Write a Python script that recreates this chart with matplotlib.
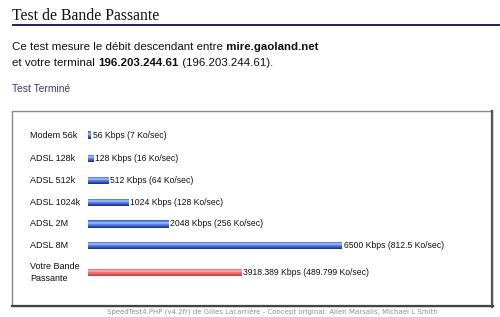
import numpy as np
import matplotlib
matplotlib.use("Agg")
import matplotlib.pyplot as plt
from matplotlib.colors import LinearSegmentedColormap
from matplotlib.patches import Rectangle

# ---------------- data ----------------
categories = ["Modem 56k", "ADSL 128k", "ADSL 512k", "ADSL 1024k",
              "ADSL 2M", "ADSL 8M", "Votre Bande\nPassante"]
kbps = [56, 128, 512, 1024, 2048, 6500, 3918.389]
is_user = [False, False, False, False, False, False, True]
server = "mire.gaoland.net"
client_ip = "196.203.244.61"

# ---------------- layout ----------------
W, H = 500, 317
DPI = 100
row_y = [135, 158.5, 180.5, 202.5, 224, 245.5, 272.5]   # pixel centres
bar_h = 8
bar_x0 = 88          # pixel where bars start
px_per_kbps = 254 / 6500.0

fig = plt.figure(figsize=(W / DPI, H / DPI), dpi=DPI)
page = fig.add_axes([0, 0, 1, 1])
page.set_xlim(0, W)
page.set_ylim(H, 0)
page.axis("off")

def fmt(v):
    s = "%.3f" % v
    return s.rstrip("0").rstrip(".")

# title + rule
page.text(12, 16, "Test de Bande Passante", family="Liberation Serif",
          fontsize=11.3, color="#111111", va="center", ha="left")
page.plot([12, 500], [24.5, 24.5], color="#22225e", lw=1.4,
          solid_capstyle="butt")

fig.canvas.draw()
renderer = fig.canvas.get_renderer()

def seq(x, y, pieces, size, color="#111111", family="Liberation Sans"):
    for txt, weight in pieces:
        t = page.text(x, y, txt, fontsize=size, fontweight=weight,
                      family=family, color=color, va="center", ha="left")
        bb = t.get_window_extent(renderer)
        x = x + bb.width * (W / fig.bbox.width)
    return x

seq(12, 47.5, [("Ce test mesure le débit descendant entre", "normal"),
               (" " + server, "bold")], 8.25)
seq(12, 63, [("et votre terminal ", "normal"), (client_ip, "bold"),
             (" (%s)." % client_ip, "normal")], 8.25)
page.text(12, 89.5, "Test Terminé", fontsize=7.4, family="Liberation Sans",
          color="#3b3b8c", va="center", ha="left")

# box
page.add_patch(Rectangle((12, 111), 480, 195, fill=False,
                         edgecolor="#8a8a8a", lw=1.0))
page.plot([492, 492], [111, 306.5], color="#555555", lw=1.6)
page.plot([12, 492.5], [306, 306], color="#444444", lw=1.6)

# footer
page.text(272, 311.5,
          "SpeedTest4.PHP (v4.2fr) de Gilles Lacarrière - Concept original: "
          "Allen Marsalis, Michael L Smith",
          fontsize=5.0, color="#939393", ha="center", va="center")

# ---------------- bar axes ----------------
ax_l = bar_x0 / W
ax_w = (492 - bar_x0) / W
ax = fig.add_axes([ax_l, 0, ax_w, 1])
ax.set_xlim(0, (492 - bar_x0) / px_per_kbps)
ax.set_ylim(H, 0)
ax.axis("off")
ax.patch.set_alpha(0)

blue = LinearSegmentedColormap.from_list("b", [
    (0.0, "#2f62d8"), (0.2, "#5b86e6"), (0.35, "#b3c7f2"),
    (0.55, "#5d86e2"), (0.8, "#2f52c0"), (1.0, "#162a86")])
red = LinearSegmentedColormap.from_list("r", [
    (0.0, "#de4a4a"), (0.2, "#ea7a7a"), (0.35, "#f6c0c0"),
    (0.55, "#ec7676"), (0.8, "#e05656"), (1.0, "#c83a3a")])
grad = np.linspace(0, 1, 64).reshape(-1, 1)

bars = ax.barh(row_y, kbps, height=bar_h, left=0, color="none",
               edgecolor="none")
xmin_w = 2.6 / px_per_kbps
for bar, v, user, cat, y in zip(bars, kbps, is_user, categories, row_y):
    if bar.get_width() < xmin_w:
        bar.set_width(xmin_w)
    x0, w = bar.get_x(), bar.get_width()
    yt, yb = bar.get_y(), bar.get_y() + bar.get_height()
    im = ax.imshow(grad, cmap=red if user else blue, aspect="auto",
                   extent=(x0, x0 + w, yb, yt), origin="upper",
                   interpolation="bilinear")
    im.set_clip_path(bar)
    ax.text(x0 + w + 2.0 / px_per_kbps, y,
            "%s Kbps (%s Ko/sec)" % (fmt(v), fmt(v / 8.0)),
            fontsize=6.2, family="Liberation Sans", color="#111111",
            va="center", ha="left")
    page.text(30, y, cat, fontsize=6.5, family="Liberation Sans",
              color="#111111", va="center", ha="left",
              multialignment="left", linespacing=1.35)

ax.set_xlim(0, (492 - bar_x0) / px_per_kbps)
ax.set_ylim(H, 0)

fig.savefig("out.png", dpi=DPI, facecolor="white")
